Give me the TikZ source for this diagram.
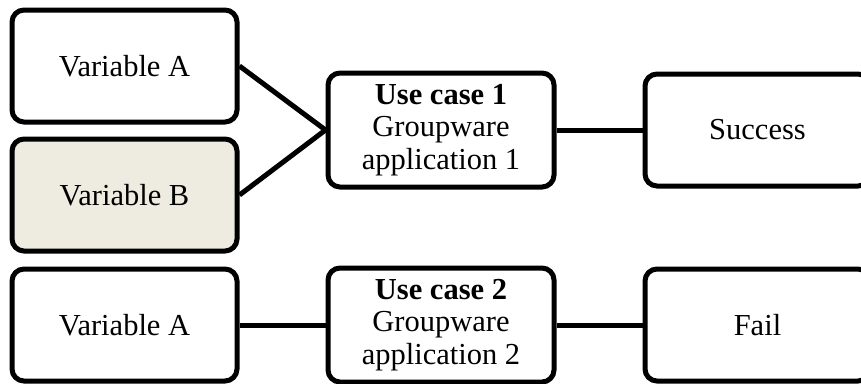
\documentclass[tikz,border=0pt]{standalone}
\usepackage{fontspec}
\setmainfont{Liberation Serif}
\usetikzlibrary{positioning}
\definecolor{varfill}{HTML}{EEECE1}

\begin{document}
\begin{tikzpicture}[x=1pt, y=1pt]
\tikzstyle{box}=[rectangle, rounded corners=12pt, draw=black, line width=5pt, minimum width=225pt, minimum height=112pt, inner sep=0pt, align=center, font=\fontsize{30.5}{32.5}\selectfont, node distance=12pt and 86pt]
\tikzstyle{usecase}=[box, minimum width=226pt, minimum height=114pt]
\tikzstyle{connect}=[line width=5pt]
\useasboundingbox (0,0) rectangle (861,-383);

% 2. Nodes
%%%%%%%%%%
\node[box, fill=white] (varA) at (124.5,-66) {Variable A};
\node[box, fill=varfill] (varB) [below=of varA] {Variable B};
\node[box, fill=white] (varAtwo) [below=13pt of varB] {Variable A};
\node[usecase, fill=white] (caseone) at (441,-130) {\textbf{Use case 1}\\Groupware\\application 1};
\node[box, fill=white] (success) [right=of caseone] {Success};
\node[usecase, fill=white] (casetwo) [right=of varAtwo] {\textbf{Use case 2}\\Groupware\\application 2};
\node[box, fill=white] (fail) [right=of casetwo] {Fail};

% 3. Lines
%%%%%%%%%%
\path (varA.east) edge [connect] (caseone.west)
      (varB.east) edge [connect] (caseone.west)
      (caseone)   edge [connect] (success)
      (varAtwo)   edge [connect] (casetwo)
      (casetwo)   edge [connect] (fail);

\end{tikzpicture}
\end{document}
